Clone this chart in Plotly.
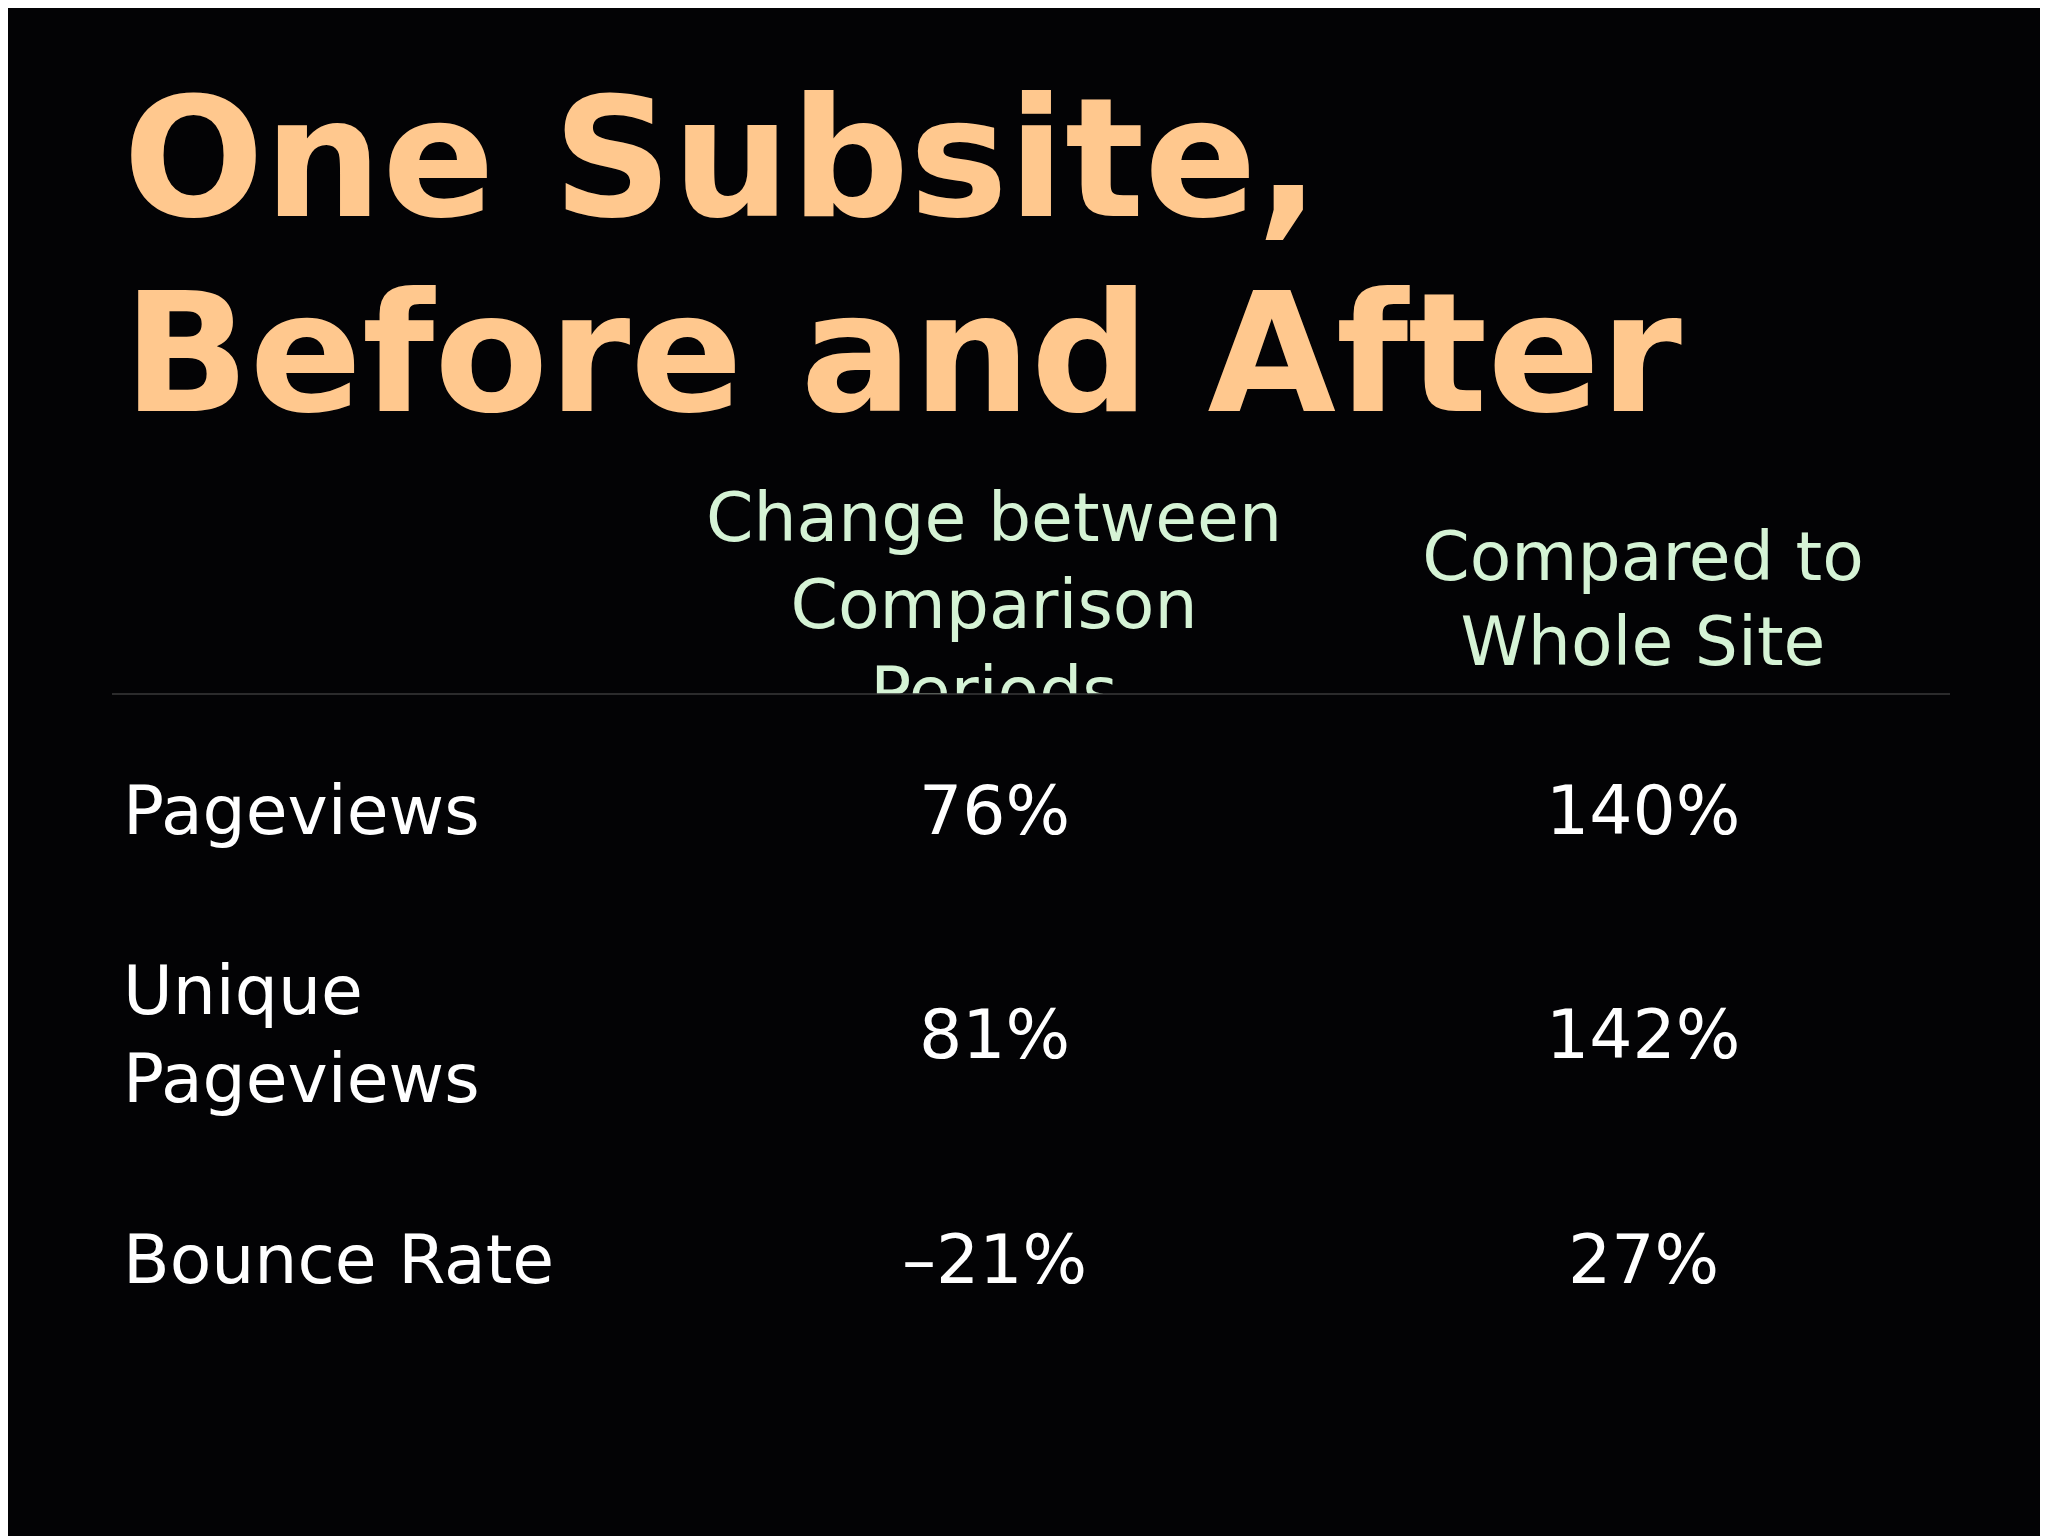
import plotly.graph_objects as go

W, H = 2048, 1536

title_lines = ["One Subsite,", "Before and After"]
col_headers = [["Change between", "Comparison", "Periods"], ["Compared to", "Whole Site"]]
row_labels = ["Pageviews", "Unique<br>Pageviews", "Bounce Rate"]
change_vals = ["76%", "81%", "\u201321%"]
whole_site_vals = ["140%", "142%", "27%"]

BG = "#030305"
TITLE_C = "#FFC88E"
HEAD_C = "#D5F3D5"
FONT = "DejaVu Sans"

col_x = [986, 1635]
row_y = [802, 1026, 1251]
line_y = 686


def px(x, y):
    return x / W, 1 - y / H


fig = go.Figure()

# header text lives in its own axis so the last line gets clipped at the rule
head_tops = [[516, 603, 690], [555, 640]]
for cx, lines, ys in zip(col_x, col_headers, head_tops):
    fig.add_trace(go.Scatter(
        x=[cx] * len(lines), y=[H - y for y in ys], text=lines, mode="text",
        textfont=dict(family=FONT, size=68, color=HEAD_C),
        textposition="middle center", cliponaxis=True, hoverinfo="skip",
        showlegend=False))

fig.update_xaxes(range=[0, W], visible=False, fixedrange=True, domain=[0, 1])
fig.update_yaxes(range=[H - line_y, H], visible=False, fixedrange=True,
                 domain=[1 - line_y / H, 1])

ann = []
for i, t in enumerate(title_lines):
    x, y = px(113, [150, 346][i])
    ann.append(dict(x=x, y=y, xref="paper", yref="paper", text=t,
                    xanchor="left", yanchor="middle",
                    font=dict(family=FONT, size=166, color=TITLE_C,
                              weight="bold"), showarrow=False))

for lab, a, b, ry in zip(row_labels, change_vals, whole_site_vals, row_y):
    x, y = px(113, ry)
    ann.append(dict(x=x, y=y, xref="paper", yref="paper", text=lab,
                    xanchor="left", yanchor="middle", align="left",
                    font=dict(family=FONT, size=68, color="white"),
                    showarrow=False))
    for cx, v in zip(col_x, [a, b]):
        x, y = px(cx, ry)
        ann.append(dict(x=x, y=y, xref="paper", yref="paper", text=v,
                        xanchor="center", yanchor="middle",
                        font=dict(family=FONT, size=68, color="white"),
                        showarrow=False))

x0, y0 = px(104, line_y)
x1, _ = px(1942, line_y)
fig.add_shape(type="line", xref="paper", yref="paper", x0=x0, x1=x1, y0=y0, y1=y0,
              line=dict(color="#3a3a3a", width=1.5))

fig.update_layout(
    width=W, height=H, margin=dict(l=0, r=0, t=0, b=0),
    paper_bgcolor=BG, plot_bgcolor="rgba(0,0,0,0)",
    annotations=ann,
)

fig.write_html("out.html")
